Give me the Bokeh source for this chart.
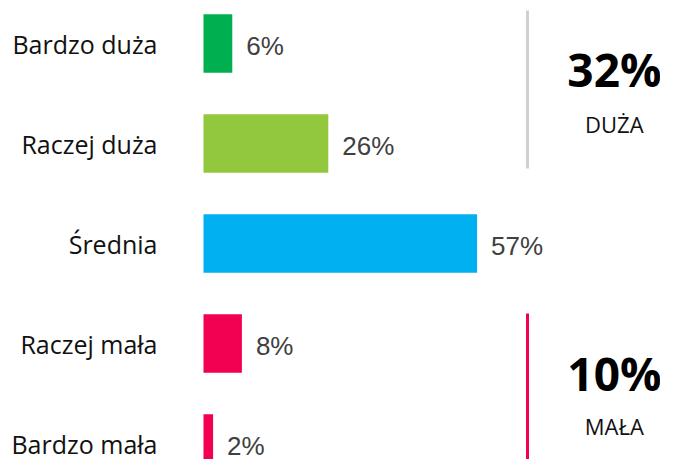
from bokeh.plotting import figure
from bokeh.models import Range1d, ColumnDataSource
from bokeh.core.properties import value
from bokeh.embed import file_html
from bokeh.resources import INLINE

categories = ["Bardzo duża", "Raczej duża", "Średnia", "Raczej mała", "Bardzo mała"]
values = [6, 26, 57, 8, 2]
colors = ["#00B050", "#92C83E", "#00B0F0", "#F20051", "#F20051"]
labels = ["6%", "26%", "57%", "8%", "2%"]

summary_values = ["32%", "10%"]
summary_names = ["DUŻA", "MAŁA"]

rows = list(range(len(categories)))

p = figure(width=660, height=459, output_backend="svg", toolbar_location=None,
           x_range=Range1d(-42.29, 95.21), y_range=Range1d(4.16, -0.43),
           min_border=0)
p.axis.visible = False
p.grid.visible = False
p.outline_line_color = None
p.background_fill_color = "white"

src = ColumnDataSource(dict(y=rows, v=values, c=colors, cat=categories, lab=labels))
p.hbar(y="y", left=0, right="v", height=0.585, fill_color="c", line_color=None, source=src)

p.text(x=0, y="y", text="cat", source=src, x_offset=-46, text_align="right",
       text_baseline="middle", text_font=value("Open Sans"), text_font_size="25px",
       text_color="#111111")
p.text(x="v", y="y", text="lab", source=src, x_offset=14, y_offset=2, text_align="left",
       text_baseline="middle", text_font=value("Liberation Sans"), text_font_size="26px",
       text_color="#404040")

# bracket lines
xline = 67.5
p.segment(x0=[xline], y0=[-0.33], x1=[xline], y1=[1.25], line_color="#D0D0D0", line_width=3)
p.segment(x0=[xline], y0=[2.70], x1=[xline], y1=[4.3], line_color="#F20051", line_width=3)

xs = 85.6
p.text(x=[xs, xs], y=[0.25, 3.29], text=summary_values, text_align="center",
       text_baseline="middle", text_font=value("Open Sans"), text_font_style="bold",
       text_font_size="46px", text_color="#000000")
p.text(x=[xs, xs], y=[0.80, 3.82], text=summary_names, text_align="center",
       text_baseline="middle", text_font=value("Open Sans"), text_font_size="22px",
       text_color="#111111")

open("out.html", "w").write(file_html(p, INLINE))
